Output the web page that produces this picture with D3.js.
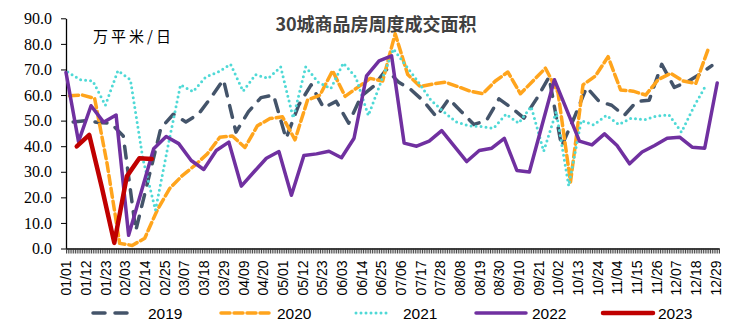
<!DOCTYPE html>
<html>
<head>
<meta charset="utf-8">
<script src="https://cdn.jsdelivr.net/npm/d3@7"></script>
<style>
  body { margin: 0; background: #fff; }
</style>
</head>
<body>
<div id="chart"></div>
<script>
const svgWidth = 753;
const svgHeight = 325;

// x axis labels, one every 11 days of a 366-day year
const tickLabels = ['01/01', '01/12', '01/23', '02/03', '02/14', '02/25', '03/07', '03/18', '03/29',
  '04/09', '04/20', '05/01', '05/12', '05/23', '06/03', '06/14', '06/25', '07/06', '07/17',
  '07/28', '08/08', '08/19', '08/30', '09/10', '09/21', '10/02', '10/13', '10/24', '11/04',
  '11/15', '11/26', '12/07', '12/18', '12/29'];

const years = ['2019', '2020', '2021', '2022', '2023'];
// day of year of each series' first weekly point
const startDays = [4, 2, 1, 0, 6];

const values2019 = [49.5, 50, 49.3, 49, 44, 7, 27, 47, 52.5, 49.5, 52.5, 59, 66, 45.5, 53.5, 59,
  60, 43, 56, 64, 55, 57.5, 49, 59.5, 63.5, 70, 65, 62, 57.5, 51.5, 58.5, 53.5, 48.5, 50, 58.5,
  55, 51, 58.5, 67, 40, 51, 63, 57.5, 56, 52, 57.5, 58, 72, 63, 65, 68, 71.5];
const values2020 = [59.7, 60, 58.7, 33, 2, 1.2, 4, 15, 23.5, 28.5, 32.5, 37, 43.5, 44, 39.5, 48,
  50.8, 51.5, 42.5, 58, 60, 69.5, 59.5, 63, 66.5, 65.5, 84, 68, 63.3, 64.3, 65, 63.3, 61.5, 60.5,
  65.5, 69, 60.5, 65.5, 70.5, 61, 26, 64, 67.5, 75, 62, 61.5, 60, 66, 68.5, 65.5, 64.5, 78];
const values2021 = [69, 66, 65.5, 56, 69.5, 66, 35, 15, 40, 64, 61.3, 67, 69, 72, 61.5, 68, 66.5,
  71, 51, 71, 65, 62.5, 72.5, 67, 52, 65, 78, 71.5, 65, 58, 53.5, 49.5, 48, 47.7, 47, 52.5, 49,
  55.5, 38, 53.5, 24.5, 50, 48.3, 52, 48.5, 51, 50.3, 51.8, 52.3, 45.5, 55.5, 64.2];
const values2022 = [68.8, 41.8, 55.8, 49.4, 52.2, 5.2, 22, 39, 43.8, 41, 34.4, 30.9, 38.3, 41.6,
  24.4, 29.9, 35.3, 37.9, 20.8, 36.4, 37, 38, 35.5, 43.1, 67.5, 73.4, 75.3, 41.2, 40, 42, 46.1,
  40, 34, 38.3, 39.2, 43.1, 30.5, 29.9, 48, 66, 54, 42, 40.5, 44.8, 40.3, 33.1, 37.7, 40.3, 43.1,
  43.5, 39.6, 39.2, 64.7];
const values2023 = [39.9, 44.4, 24, 2.2, 28.2, 35.3, 35];

const seriesValues = [values2019, values2020, values2021, values2022, values2023];

const lineColors = ['#44546a', '#ffa41c', '#4fd9d6', '#7030a0', '#c00000'];
const lineWidths = [3.5, 3.5, 3, 3.5, 4.5];
const lineDashes = ['12,10', '9,4', '0,5', null, null];

const svg = d3.select('#chart')
  .append('svg')
  .attr('width', svgWidth)
  .attr('height', svgHeight);

const x = d3.scaleLinear().domain([0, 365]).range([66, 719]);
const y = d3.scaleLinear().domain([0, 90]).range([248.5, 18.3]);

// y axis
const yAxis = svg.append('g')
  .attr('transform', `translate(${x(0)},0)`)
  .call(d3.axisLeft(y)
    .tickValues(d3.range(0, 91, 10))
    .tickFormat(d3.format('.1f'))
    .tickSize(5)
    .tickSizeOuter(0)
    .tickPadding(9));
yAxis.select('.domain').attr('stroke', '#000').attr('stroke-width', 1.3);
yAxis.selectAll('text')
  .attr('font-family', '"Liberation Serif", "Times New Roman", serif')
  .attr('font-size', 16)
  .attr('fill', '#000');

// x axis: a tick on every day, a label every 11 days
const xAxis = svg.append('g')
  .attr('transform', `translate(0,${y(0)})`)
  .call(d3.axisBottom(x)
    .tickValues(d3.range(0, 366))
    .tickFormat(d => (d % 11 === 0 ? tickLabels[d / 11] : ''))
    .tickSize(5)
    .tickSizeOuter(0));
xAxis.select('.domain').attr('stroke', '#000').attr('stroke-width', 1.3);
xAxis.selectAll('.tick line').attr('stroke', '#333').attr('stroke-width', 0.9);
xAxis.selectAll('text')
  .attr('font-family', '"Liberation Sans", Arial, sans-serif')
  .attr('font-size', 14)
  .attr('fill', '#000')
  .attr('text-anchor', 'end')
  .attr('transform', 'rotate(-90)')
  .attr('x', -12)
  .attr('y', 0)
  .attr('dy', '0.35em');

// lines
const line = d3.line()
  .x(d => x(d.day))
  .y(d => y(d.value));

years.forEach((year, k) => {
  const points = seriesValues[k].map((v, i) => ({ day: startDays[k] + 7 * i, value: v }));
  svg.append('path')
    .datum(points)
    .attr('fill', 'none')
    .attr('stroke', lineColors[k])
    .attr('stroke-width', lineWidths[k])
    .attr('stroke-linejoin', 'round')
    .attr('stroke-linecap', 'round')
    .attr('stroke-dasharray', lineDashes[k])
    .attr('d', line);
});

// title and unit
svg.append('text')
  .attr('x', 376)
  .attr('y', 31)
  .attr('text-anchor', 'middle')
  .attr('font-family', '"Noto Sans CJK SC", sans-serif')
  .attr('font-weight', 'bold')
  .attr('font-size', 18)
  .attr('fill', '#404040')
  .text('30城商品房周度成交面积');

svg.append('text')
  .attr('x', 93)
  .attr('y', 42)
  .attr('font-family', '"Noto Sans CJK SC", sans-serif')
  .attr('font-size', 15)
  .attr('letter-spacing', 3)
  .attr('fill', '#000')
  .text('万平米/日');

// legend
const legendX = [93, 221, 356, 476, 603];
const legendLen = [37, 50, 35, 50, 50];
const legendTextX = [148, 277, 403, 532, 658];
const legendY = 313;

years.forEach((year, k) => {
  svg.append('line')
    .attr('x1', legendX[k])
    .attr('x2', legendX[k] + legendLen[k])
    .attr('y1', legendY)
    .attr('y2', legendY)
    .attr('stroke', lineColors[k])
    .attr('stroke-width', lineWidths[k])
    .attr('stroke-linecap', 'round')
    .attr('stroke-dasharray', lineDashes[k]);
  svg.append('text')
    .attr('x', legendTextX[k])
    .attr('y', legendY)
    .attr('dy', '0.36em')
    .attr('font-family', '"Liberation Sans", Arial, sans-serif')
    .attr('font-size', 15.5)
    .attr('fill', '#000')
    .text(year);
});
</script>
</body>
</html>
